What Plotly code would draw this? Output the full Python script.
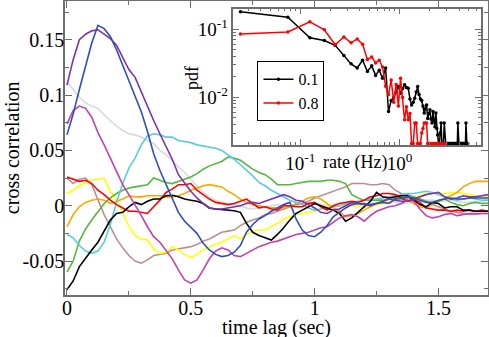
import plotly.graph_objects as go

# ---------------- main panel data (time lag in sec, step 0.025) ----------------
time_lag = [round(0.025 * i, 3) for i in range(69)]

black = [-0.076, -0.068, -0.055, -0.047, -0.040, -0.033, -0.023, -0.013, -0.007, -0.006,
         -0.001, 0.003, 0.001, 0.004, 0.006, 0.006, 0.009, 0.0095, 0.008, 0.006,
         0.005, 0.004, 0.002, -0.002, -0.003, -0.0035, -0.004, -0.0045, -0.006, -0.016,
         -0.024, -0.027, -0.029, -0.031, -0.026, -0.020, -0.013, -0.007, -0.004, -0.001,
         0.002, 0.000, -0.002, -0.004, -0.007, -0.014, -0.011, -0.006, -0.001, 0.004,
         0.012, 0.008, 0.007, 0.008, 0.009, 0.009, 0.005, 0.001, -0.001, 0.003,
         0.002, -0.002, -0.001, -0.001, -0.004, -0.004, -0.005, -0.005, -0.005]
red = [0.026, 0.024, 0.022, 0.023, 0.020, 0.014, 0.010, 0.005, 0.001, -0.002,
       -0.005, -0.005, -0.006, -0.007, -0.001, 0.005, 0.012, 0.015, 0.019, 0.019,
       0.020, 0.014, 0.010, 0.006, 0.003, 0.002, 0.001, 0.002, 0.004,
       0.006, 0.002, -0.002, -0.001, -0.003, -0.004, 0.000, 0.000, -0.001, -0.001,
       0.002, 0.003, -0.001, -0.004, 0.000, 0.002, 0.003, 0.004, 0.003, 0.005,
       0.008, 0.009, 0.011, 0.011, 0.010, 0.007, 0.004, 0.006, 0.003, -0.002,
       -0.003, -0.004, -0.004, -0.005, -0.004, -0.005, -0.004, -0.005, -0.004, -0.005]
green = [-0.060, -0.050, -0.032, -0.021, -0.013, -0.006, 0.002, 0.007, 0.011, 0.014,
         0.016, 0.017, 0.018, 0.019, 0.025, 0.023, 0.021, 0.020, 0.022, 0.024,
         0.026, 0.029, 0.033, 0.036, 0.038, 0.040, 0.044, 0.043, 0.041, 0.037,
         0.033, 0.030, 0.028, 0.024, 0.019, 0.019, 0.019, 0.020, 0.021, 0.022,
         0.022, 0.022, 0.023, 0.023, 0.022, 0.020, 0.010, 0.007, 0.005, 0.005,
         0.005, 0.005, 0.006, 0.006, 0.006, 0.007, 0.008, 0.006, 0.004, 0.002,
         0.004, 0.006, 0.003, 0.001, 0.000, 0.002, 0.003, 0.002, 0.002]
blue = [0.064, 0.083, 0.105, 0.127, 0.147, 0.163, 0.160, 0.153, 0.141, 0.127,
        0.113, 0.099, 0.085, 0.067, 0.047, 0.032, 0.019, 0.006, -0.006, -0.014,
        -0.020, -0.025, -0.034, -0.040, -0.044, -0.046, -0.045, -0.042, -0.036, -0.024,
        -0.017, -0.012, -0.009, -0.005, -0.002, 0.001, 0.003, -0.012, -0.022, -0.027,
        -0.028, -0.024, -0.018, -0.010, -0.006, -0.002, 0.001, 0.002, 0.002, 0.001,
        0.002, 0.003, 0.002, 0.006, 0.007, 0.008, 0.007, 0.005, 0.003, 0.003,
        0.005, 0.006, 0.007, 0.006, 0.006, 0.007, 0.007, 0.007, 0.007]
yellow = [0.011, 0.014, 0.018, 0.021, 0.023, 0.024, 0.025, 0.013, 0.005, -0.006,
          -0.019, -0.027, -0.030, -0.031, -0.039, -0.043, -0.042, -0.037, -0.040, -0.044,
          -0.047, -0.044, -0.040, -0.037, -0.035, -0.033, -0.030, -0.027, -0.030, -0.026,
          -0.023, -0.022, -0.022, -0.019, -0.016, -0.012, -0.010, -0.008, -0.007, -0.006,
          -0.005, -0.003, -0.001, 0.000, 0.000, 0.001, 0.000, -0.001, -0.001, -0.001,
          0.001, 0.002, 0.003, 0.005, 0.006, 0.007, 0.008, 0.009, 0.011, 0.011,
          0.011, 0.011, 0.012, 0.012, 0.011, 0.010, 0.009, 0.008, 0.008]
brown = [0.025, 0.020, 0.024, 0.025, 0.019, 0.005, -0.008, -0.019, -0.030, -0.038,
         -0.045, -0.050, -0.052, -0.049, -0.045, -0.044, -0.043, -0.040, -0.039, -0.038,
         -0.037, -0.035, -0.032, -0.030, -0.027, -0.024, -0.023, -0.022, -0.018, -0.015,
         -0.013, -0.011, -0.008, -0.007, -0.005, -0.003, -0.001, 0.001, 0.002, 0.004,
         0.007, 0.009, 0.011, 0.013, 0.015, 0.017, 0.020, 0.020, 0.020, 0.019,
         0.019, 0.020, 0.019, 0.014, 0.011, 0.010, 0.008, 0.006, 0.004, 0.001,
         -0.001, -0.003, -0.005, -0.006, -0.007, -0.008, -0.008, -0.007, -0.007]
grey = [0.112, 0.105, 0.098, 0.093, 0.090, 0.088, 0.082, 0.077, 0.072, 0.068,
        0.065, 0.064, 0.062, 0.059, 0.056, 0.050, 0.046, 0.041, 0.035, 0.030,
        0.024, 0.018, 0.012, 0.008, 0.005, 0.003, 0.002, 0.001, 0.000, -0.002,
        -0.003, -0.002, -0.001, 0.000, 0.001, 0.000, -0.001, 0.000, 0.002, 0.003,
        0.002, 0.001, 0.000, -0.001, 0.000, 0.001, 0.002, 0.001, 0.001, 0.002,
        0.003, 0.003, 0.004, 0.003, 0.002, 0.002, 0.003, 0.004, 0.005, 0.005,
        0.004, 0.004, 0.005, 0.004, 0.003, 0.003, 0.004, 0.003, 0.003]
violet = [0.109, 0.132, 0.150, 0.155, 0.158, 0.159, 0.155, 0.151, 0.145, 0.134,
          0.123, 0.116, 0.103, 0.089, 0.077, 0.065, 0.054, 0.042, 0.028, 0.020,
          0.013, 0.007, 0.002, -0.002, -0.003, -0.003, -0.002, -0.001, 0.000, 0.002,
          0.003, 0.002, 0.004, 0.006, 0.008, 0.010, 0.008, 0.005, 0.004, 0.001,
          -0.002, -0.006, -0.007, -0.004, -0.003, 0.000, 0.003, 0.002, 0.001, 0.000,
          0.002, 0.004, 0.006, 0.005, 0.004, 0.004, 0.006, 0.008, 0.010, 0.011,
          0.012, 0.008, 0.006, 0.007, 0.009, 0.008, 0.008, 0.009, 0.010]
cyan = [-0.026, -0.029, -0.036, -0.041, -0.043, -0.041, -0.033, -0.017, 0.003, 0.020,
        0.034, 0.043, 0.055, 0.063, 0.065, 0.064, 0.062, 0.062, 0.059, 0.058,
        0.057, 0.055, 0.054, 0.053, 0.052, 0.050, 0.046, 0.042, 0.037, 0.032,
        0.027, 0.021, 0.018, 0.014, 0.011, 0.008, 0.005, 0.003, 0.001, -0.002,
        -0.004, -0.003, -0.002, -0.001, 0.000, 0.002, 0.003, 0.004, 0.005, 0.006,
        0.006, 0.007, 0.008, 0.009, 0.010, 0.011, 0.011, 0.012, 0.013, 0.012,
        0.010, 0.008, 0.006, 0.005, 0.006, 0.007, 0.006, 0.005, 0.005]
magenta = [0.074, 0.086, 0.090, 0.088, 0.080, 0.066, 0.055, 0.043, 0.031, 0.019,
           0.010, 0.001, -0.009, -0.019, -0.028, -0.033, -0.040, -0.048, -0.058, -0.067,
           -0.070, -0.067, -0.058, -0.048, -0.041, -0.038, -0.040, -0.045, -0.046, -0.043,
           -0.040, -0.037, -0.035, -0.033, -0.032, -0.030, -0.028, -0.026, -0.025, -0.024,
           -0.022, -0.020, -0.019, -0.015, -0.011, -0.009, -0.008, -0.010, -0.014, -0.009,
           -0.005, -0.003, -0.001, 0.000, 0.002, 0.005, 0.004, -0.003, -0.009, -0.011,
           -0.010, -0.008, -0.007, -0.009, -0.008, -0.007, -0.007, -0.007, -0.007]
orange = [-0.019, -0.008, -0.001, 0.003, 0.005, 0.006, 0.005, 0.002, 0.004, 0.006,
          0.009, 0.008, 0.008, 0.009, 0.009, 0.009, 0.008, 0.008, 0.009, 0.011,
          0.014, 0.016, 0.018, 0.019, 0.018, 0.017, 0.013, 0.010, 0.006, 0.003,
          0.001, 0.000, -0.001, -0.002, -0.002, -0.002, -0.001, 0.002, 0.004, 0.007,
          0.008, 0.006, 0.002, -0.002, -0.005, -0.010, -0.009, -0.007, -0.004, -0.001,
          0.002, 0.004, 0.006, 0.007, 0.008, 0.005, 0.002, -0.001, -0.002, 0.001,
          0.004, 0.007, 0.009, 0.012, 0.017, 0.020, 0.022, 0.022, 0.022]

main_x_ticks = [0, 0.5, 1, 1.5]
main_x_labels = ["0", "0.5", "1", "1.5"]
main_y_ticks = [-0.05, 0, 0.05, 0.1, 0.15]
main_y_labels = ["-0.05", "0", "0.05", "0.1", "0.15"]

# ---------------- inset data: rate histogram (bin width 0.05 Hz) ----------------
bin_width = 0.05
pdf_01 = [0.18, 0.15, 0.075, 0.068, 0.058, 0.041, 0.031, 0.027, 0.035, 0.024,
          0.029, 0.021, 0.025, 0.019, 0.027, 0.0062, 0.009, 0.010, 0.012, 0.0144,
          0.0115, 0.0135, 0.0153, 0.014, 0.0136, 0.0095, 0.0077, 0.0085, 0.0097, 0.012,
          0.0144, 0.011, 0.0095, 0.009, 0.0075, 0.0059, 0.0068, 0.0077, 0.0049, 0.0058,
          0.0066, 0.0048, 0.0042, 0.0062, 0.0045, 0.0037, 0.0059, 0.0035, 0.0028, 0.0021,
          0.0021, 0.0030, 0.0042, 0.0021, 0.0021, 0.0021, 0.0042, 0.0021, 0.0021, 0.0021,
          0.0021, 0.0021, 0.0021, 0.0021, 0.0021, 0.0021, 0.0021, 0.0021, 0.0021, 0.0021,
          0.0021, 0.0021, 0.0021, 0.0021, 0.0021, 0.0021, 0.0021, 0.0042, 0.0021, 0.0021,
          0.0021, 0.0021, 0.0021, 0.0021, 0.0021, 0.0021, 0.0021, 0.0021, 0.0021, 0.0021,
          0.0021, 0.0021, 0.0021, 0.0042, 0.0021, 0.0021, 0.0021, 0.0021]
pdf_08 = [0.085, 0.091, 0.128, 0.098, 0.059, 0.077, 0.063, 0.072, 0.060, 0.036,
          0.039, 0.032, 0.035, 0.028, 0.0145, 0.011, 0.018, 0.0085, 0.0155, 0.0075,
          0.019, 0.010, 0.0047, 0.0073, 0.0047, 0.0058, 0.0021, 0.0021, 0.0042, 0.0042,
          0.0021, 0.0021, 0.0021, 0.0030, 0.0035, 0.0042, 0.0042, 0.0042, 0.0021, 0.0021,
          0.0021, 0.0021, 0.0021, 0.0021, 0.0021, 0.0021, 0.0021, 0.0021, 0.0021, 0.0021,
          0.0021, 0.0021, 0.0021, 0.0021, 0.0021, 0.0021, 0.0021, 0.0021, 0.0021]
rate_01 = [(i + 0.5) * bin_width for i in range(len(pdf_01))]
rate_08 = [(i + 0.5) * bin_width for i in range(len(pdf_08))]

inset_x_ticks = [0.1, 1]
inset_x_labels = ["10<sup>-1</sup>", "10<sup>0</sup>"]
inset_y_ticks = [0.01, 0.1]
inset_y_labels = ["10<sup>-2</sup>", "10<sup>-1</sup>"]

series = [
    ("grey", grey, "#d9d9d9"),
    ("brown", brown, "#bc8f8f"),
    ("yellow", yellow, "#ffff00"),
    ("orange", orange, "#ffa500"),
    ("green", green, "#56b83c"),
    ("cyan", cyan, "#5ccbe0"),
    ("red", red, "#ff0000"),
    ("black", black, "#000000"),
    ("magenta", magenta, "#c043ad"),
    ("violet", violet, "#7d32a8"),
    ("blue", blue, "#2f4fbb"),
]

FONT = "Liberation Serif"
FRAME = "#6e6e6e"

fig = go.Figure()
for name, vals, col in series:
    assert len(vals) == len(time_lag), name
    fig.add_trace(go.Scatter(x=time_lag, y=vals, mode="lines", name=name,
                             line=dict(color=col, width=1.6), showlegend=False,
                             hoverinfo="skip", xaxis="x", yaxis="y"))

fig.add_trace(go.Scatter(x=rate_01, y=pdf_01, mode="lines+markers", name="0.1",
                         line=dict(color="black", width=1.5),
                         marker=dict(color="black", size=3.5),
                         xaxis="x2", yaxis="y2"))
fig.add_trace(go.Scatter(x=rate_08, y=pdf_08, mode="lines+markers", name="0.8",
                         line=dict(color="#ff0000", width=1.5),
                         marker=dict(color="#ff0000", size=3.5),
                         xaxis="x2", yaxis="y2"))

common = dict(showline=True, linecolor=FRAME, linewidth=1.5, mirror="ticks",
              ticks="inside", tickcolor=FRAME, tickwidth=1.2, showgrid=False,
              zeroline=False, automargin=False)

fig.update_layout(
    width=489, height=337,
    margin=dict(l=65, r=1, t=1, b=42),
    paper_bgcolor="white", plot_bgcolor="white",
    font=dict(family=FONT, size=20, color="black"),
    xaxis=dict(domain=[0, 1], range=[-0.008, 1.7], tickvals=main_x_ticks,
               ticktext=main_x_labels, ticklen=7, ticklabelstandoff=-6,
               tickfont=dict(family=FONT, size=20, color="black"),
               minor=dict(ticks="inside", ticklen=4, dtick=0.25, tick0=0,
                          tickcolor=FRAME, showgrid=False),
               **common),
    yaxis=dict(domain=[0, 1], range=[-0.0807, 0.185], tickvals=main_y_ticks,
               ticktext=main_y_labels, ticklen=7, ticklabelstandoff=-5,
               tickfont=dict(family=FONT, size=20, color="black"),
               minor=dict(ticks="inside", ticklen=4, dtick=0.025, tick0=0,
                          tickcolor=FRAME, showgrid=False),
               **common),
    xaxis2=dict(type="log", domain=[0.398, 0.983], anchor="y2",
                range=[-1.674, 0.8195], tickvals=inset_x_ticks,
                ticktext=inset_x_labels, ticklen=6,
                tickfont=dict(family=FONT, size=19, color="black"),
                minor=dict(ticks="inside", ticklen=3, dtick="D1",
                           tickcolor=FRAME, showgrid=False),
                **common),
    yaxis2=dict(type="log", domain=[0.510, 0.974], anchor="x2",
                range=[-2.699, -0.699], tickvals=inset_y_ticks,
                ticktext=inset_y_labels, ticklen=6,
                tickfont=dict(family=FONT, size=19, color="black"),
                minor=dict(ticks="inside", ticklen=3, dtick="D1",
                           tickcolor=FRAME, showgrid=False),
                **common),
    legend=dict(x=0.455, y=0.795, xanchor="left", yanchor="top",
                bordercolor="black", borderwidth=1, bgcolor="white",
                font=dict(family=FONT, size=16, color="black"),
                tracegroupgap=0, itemwidth=30),
    annotations=[
        dict(text="time lag (sec)", xref="paper", yref="paper", x=0.501, y=-0.11,
             xanchor="center", yanchor="middle", showarrow=False,
             font=dict(family=FONT, size=20)),
        dict(text="cross correlation", xref="paper", yref="paper", x=-0.125, y=0.5,
             xanchor="center", yanchor="middle", showarrow=False, textangle=-90,
             font=dict(family=FONT, size=20)),
        dict(text="rate (Hz)", xref="paper", yref="paper", x=0.686, y=0.452,
             xanchor="center", yanchor="middle", showarrow=False,
             font=dict(family=FONT, size=18)),
        dict(text="pdf", xref="paper", yref="paper", x=0.300, y=0.738,
             xanchor="center", yanchor="middle", showarrow=False, textangle=-90,
             font=dict(family=FONT, size=18)),
    ],
)

fig.write_html("out.html", config={"displayModeBar": False},
               post_script="document.body.style.margin='0px';document.body.style.overflow='hidden';")
